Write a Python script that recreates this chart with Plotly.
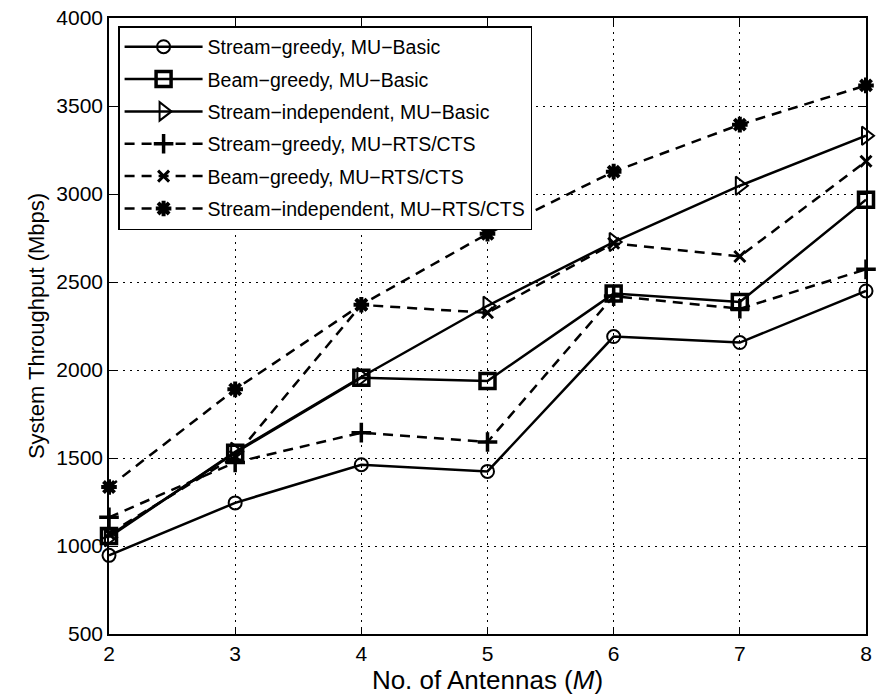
import plotly.graph_objects as go

antennas = [2, 3, 4, 5, 6, 7, 8]
sg_basic = [947, 1245, 1462, 1424, 2190, 2156, 2449]
bg_basic = [1057, 1530, 1956, 1938, 2434, 2386, 2968]
si_basic = [1050, 1535, 1960, 2365, 2727, 3047, 3331]
sg_rts = [1163, 1475, 1644, 1591, 2420, 2348, 2572]
bg_rts = [1070, 1510, 2370, 2325, 2720, 2645, 3186]
si_rts = [1335, 1890, 2371, 2774, 3127, 3394, 3617]
y_ticks = [500, 1000, 1500, 2000, 2500, 3000, 3500, 4000]

names = [
    "Stream\u2212greedy, MU\u2212Basic",
    "Beam\u2212greedy, MU\u2212Basic",
    "Stream\u2212independent, MU\u2212Basic",
    "Stream\u2212greedy, MU\u2212RTS/CTS",
    "Beam\u2212greedy, MU\u2212RTS/CTS",
    "Stream\u2212independent, MU\u2212RTS/CTS",
]
series = [sg_basic, bg_basic, si_basic, sg_rts, bg_rts, si_rts]
symbols = ["circle-open", "square-open", "triangle-right-open",
           "cross-thin-open", "x-thin-open", "asterisk-open"]
sizes = [13, 15, 16, 14, 11, 13]
mlw = [2, 3.5, 2, 3.5, 3, 4]
dashes = ["solid", "solid", "solid", "10px,7px", "10px,7px", "10px,7px"]

FONT = "Liberation Sans, Arial, Helvetica, sans-serif"

fig = go.Figure()
for i, (nm, ys, sym, sz, lw, ds) in enumerate(zip(names, series, symbols, sizes, mlw, dashes)):
    fig.add_trace(go.Scatter(
        x=antennas, y=ys, name=nm, mode="lines+markers",
        legendgroup=f"g{i}",
        line=dict(color="black", width=2.5, dash=ds),
        marker=dict(symbol=sym, size=sz, color="black",
                    line=dict(color="black", width=lw)),
        cliponaxis=False,
    ))

axis_common = dict(
    showline=True, linecolor="black", linewidth=1.5, mirror="ticks",
    ticks="inside", ticklen=7, tickcolor="black", tickwidth=1,
    showgrid=True, gridcolor="black", gridwidth=1, griddash="2px,5px",
    zeroline=False, automargin=False,
    tickfont=dict(family=FONT, size=21, color="black"),
)

fig.update_xaxes(range=[2, 8], tickvals=antennas, ticktext=[str(v) for v in antennas],
                 title=dict(text="No. of Antennas (<i>M</i>)",
                            font=dict(family=FONT, size=26, color="black"),
                            standoff=4),
                 **axis_common)
fig.update_yaxes(range=[500, 4000], tickvals=y_ticks,
                 title=dict(text="System Throughput (Mbps)",
                            font=dict(family=FONT, size=22, color="black"),
                            standoff=6),
                 **axis_common)

fig.update_layout(
    width=881, height=698,
    margin=dict(l=109, r=15, t=18, b=64),
    paper_bgcolor="white", plot_bgcolor="white",
    legend=dict(
        x=0.012, y=0.987, xanchor="left", yanchor="top",
        bgcolor="white", bordercolor="black", borderwidth=1.5,
        font=dict(family=FONT, size=19.5, color="black"),
        itemwidth=78, tracegroupgap=4,
    ),
    showlegend=True,
)

fig.write_html("out.html")
